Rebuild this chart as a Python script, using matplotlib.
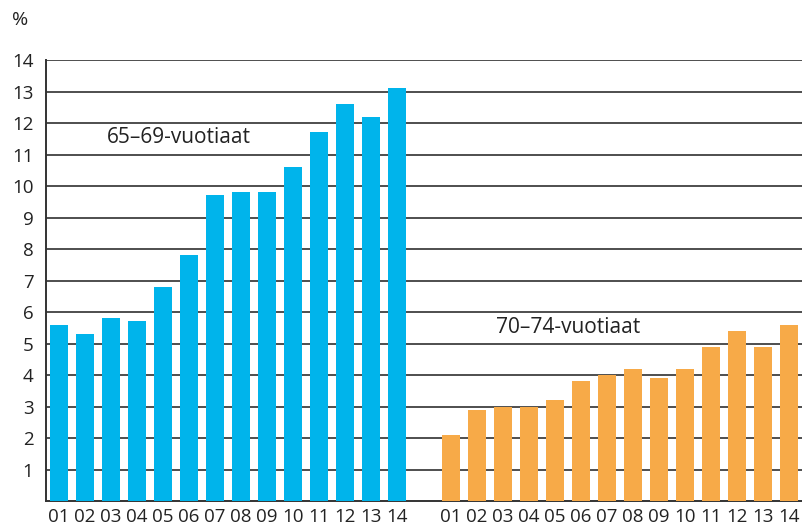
import matplotlib.pyplot as plt
import numpy as np

# data
years = ["01", "02", "03", "04", "05", "06", "07", "08", "09", "10", "11", "12", "13", "14"]
age_65_69 = [5.6, 5.3, 5.8, 5.7, 6.8, 7.8, 9.7, 9.8, 9.8, 10.6, 11.7, 12.6, 12.2, 13.1]
age_70_74 = [2.1, 2.9, 3.0, 3.0, 3.2, 3.8, 4.0, 4.2, 3.9, 4.2, 4.9, 5.4, 4.9, 5.6]

plt.rcParams['font.family'] = ['Open Sans', 'DejaVu Sans']

fig = plt.figure(figsize=(8.02, 5.30), dpi=100)
ax = fig.add_axes([0.0574, 0.0547, 0.9426, 0.832])

x1 = np.arange(len(years))
x2 = x1 + len(years) - 1 + 2.08

ax.bar(x1, age_65_69, width=0.69, color="#00b4eb", zorder=3)
ax.bar(x2, age_70_74, width=0.69, color="#f7aa48", zorder=3)

ax.set_xlim(-0.5, 28.58)
ax.set_ylim(0, 14)
ax.set_yticks(range(1, 15))
ax.set_yticklabels([str(v) for v in range(1, 15)], fontsize=13.5, color="#222222")
ax.set_xticks(list(x1) + list(x2))
ax.set_xticklabels(years + years, fontsize=13.5, color="#222222")
ax.tick_params(axis="both", length=0)
ax.tick_params(axis="y", pad=9)
ax.tick_params(axis="x", pad=5)

# horizontal grid
ax.grid(axis="y", color="#404040", linewidth=1.3, zorder=0)
for s in ["top", "right"]:
    ax.spines[s].set_visible(False)
ax.spines["left"].set_color("#333333")
ax.spines["left"].set_linewidth(1.4)
ax.spines["bottom"].set_color("#333333")
ax.spines["bottom"].set_linewidth(1.4)

ax.text(1.85, 11.55, "65–69-vuotiaat", fontsize=15, va="center", ha="left", color="#222222")
ax.text(16.8, 5.52, "70–74-vuotiaat", fontsize=15, va="center", ha="left", color="#222222")
fig.text(12 / 802, 1 - 20 / 530, "%", fontsize=14, va="center", ha="left", color="#222222")

fig.savefig("out.png", dpi=100)
